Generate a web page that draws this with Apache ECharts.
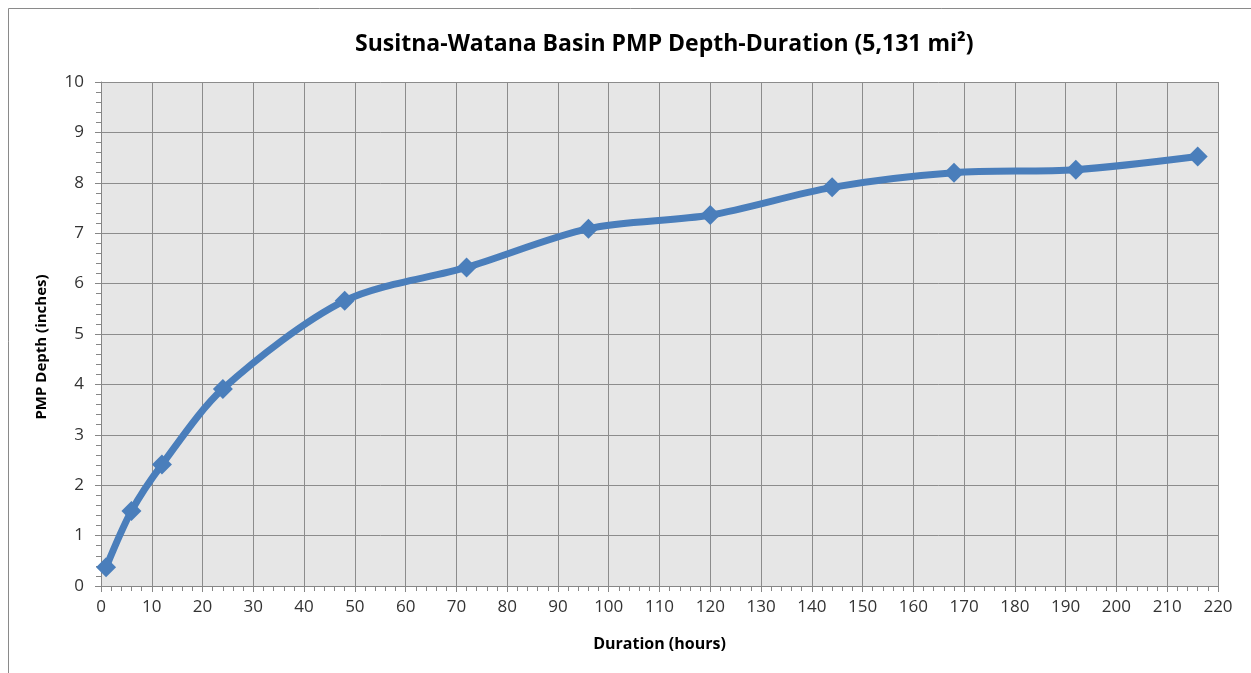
<!DOCTYPE html>
<html>
<head>
<meta charset="utf-8">
<script src="https://cdn.jsdelivr.net/npm/echarts@6/dist/echarts.min.js"></script>
<style>
  html, body { margin: 0; padding: 0; background: #fff; }
  #chart { width: 1251px; height: 673px; }
</style>
</head>
<body>
<div id="chart"></div>
<script>
// duration in hours and PMP depth in inches
const durations = [1, 6, 12, 24, 48, 72, 96, 120, 144, 168, 192, 216]
const depths = [0.37, 1.49, 2.41, 3.91, 5.66, 6.32, 7.09, 7.36, 7.91, 8.2, 8.26, 8.52]
const xTicks = { min: 0, max: 220, step: 10 }
const yTicks = { min: 0, max: 10, step: 1 }

const points = durations.map((d, i) => [d, depths[i]])

const chart = echarts.init(document.getElementById('chart'))

const option = {
  backgroundColor: '#fff',
  animation: false,
  textStyle: { fontFamily: 'Open Sans' },
  title: {
    text: 'Susitna-Watana Basin PMP Depth-Duration (5,131 mi²)',
    left: 350,
    top: 28,
    textStyle: {
      fontFamily: 'Open Sans',
      fontSize: 23,
      fontWeight: 'bold',
      color: '#000'
    }
  },
  graphic: [{
    type: 'rect',
    shape: { x: 8.5, y: 8.5, width: 1300, height: 700 },
    style: { fill: 'none', stroke: '#8a8a8a', lineWidth: 1 },
    silent: true
  }],
  grid: {
    left: 101,
    right: 33,
    top: 82,
    bottom: 87,
    show: true,
    backgroundColor: '#e6e6e6',
    borderWidth: 0
  },
  xAxis: {
    type: 'value',
    min: xTicks.min,
    max: xTicks.max,
    interval: xTicks.step,
    name: 'Duration (hours)',
    nameLocation: 'middle',
    nameGap: 50,
    nameTextStyle: { fontSize: 16, fontWeight: 'bold', color: '#000' },
    axisLine: { show: true, lineStyle: { color: '#868686', width: 1 } },
    axisTick: { show: true, length: 6, lineStyle: { color: '#868686' } },
    minorTick: { show: true, splitNumber: 5, length: 5, lineStyle: { color: '#868686' } },
    axisLabel: { fontSize: 17, color: '#333', margin: 13 },
    splitLine: { show: true, lineStyle: { color: '#8c8c8c', width: 1 } }
  },
  yAxis: {
    type: 'value',
    min: yTicks.min,
    max: yTicks.max,
    interval: yTicks.step,
    name: 'PMP Depth (inches)',
    nameLocation: 'middle',
    nameGap: 52,
    nameTextStyle: { fontSize: 15, fontWeight: 'bold', color: '#000', padding: [0, 26, 0, 0] },
    axisLine: { show: true, lineStyle: { color: '#868686', width: 1 } },
    axisTick: { show: true, length: 6, lineStyle: { color: '#868686' } },
    minorTick: { show: true, splitNumber: 5, length: 5, lineStyle: { color: '#868686' } },
    axisLabel: { fontSize: 17, color: '#333', margin: 17 },
    splitLine: { show: true, lineStyle: { color: '#8c8c8c', width: 1 } }
  },
  series: [
    {
      name: 'PMP (under)',
      type: 'line',
      smooth: 0.3,
      symbol: 'none',
      lineStyle: { color: '#be4b48', width: 2 },
      data: points,
      z: 2
    },
    {
      name: 'PMP Depth',
      type: 'line',
      smooth: 0.3,
      symbol: 'diamond',
      symbolSize: 20,
      itemStyle: { color: '#4a7ebb' },
      lineStyle: { color: '#4a7ebb', width: 7 },
      data: points,
      z: 3
    }
  ]
}

chart.setOption(option)
</script>
</body>
</html>
